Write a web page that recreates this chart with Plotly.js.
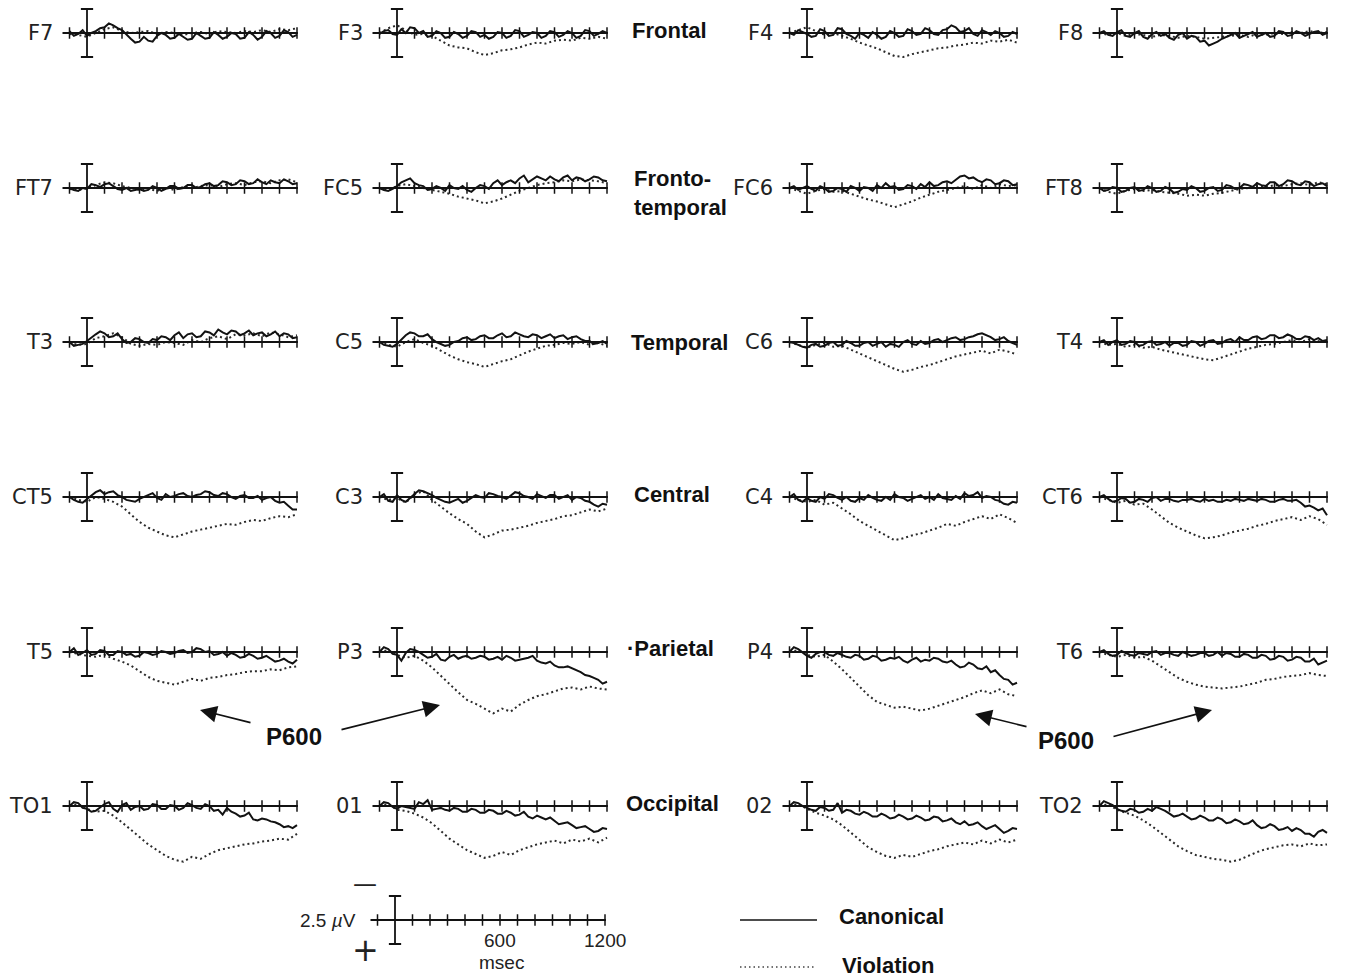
<!DOCTYPE html>
<html><head><meta charset="utf-8">
<script src="https://cdn.plot.ly/plotly-3.0.1.min.js"></script>
<style>html,body{margin:0;padding:0;background:#fff}#chart{width:1346px;height:978px}</style>
</head><body><div id="chart"></div>
<script>
// time points (ms): violation sampled every 50 ms, canonical every 25 ms
const times = [-100,-50,0,50,100,150,200,250,300,350,400,450,500,550,600,650,700,750,800,850,900,950,1000,1050,1100,1150,1200];
const timesFine = [-100,-75,-50,-25,0,25,50,75,100,125,150,175,200,225,250,275,300,325,350,375,400,425,450,475,500,525,550,575,600,625,650,675,700,725,750,775,800,825,850,875,900,925,950,975,1000,1025,1050,1075,1100,1125,1150,1175,1200];
const tickTimes = [-100,0,100,200,300,400,500,600,700,800,900,1000,1100,1200];
const channelGrid = [
  ["F7","F3","F4","F8"],
  ["FT7","FC5","FC6","FT8"],
  ["T3","C5","C6","T4"],
  ["CT5","C3","C4","CT6"],
  ["T5","P3","P4","T6"],
  ["TO1","01","02","TO2"]
];
const regionLabels = ["Frontal","Fronto-<br>temporal","Temporal","Central","·Parietal","Occipital"];
// amplitudes in µV (positive plotted downward)
const F7_can = [-0.2,0.3,0.1,-0.3,0.3,0.0,-0.2,-0.5,-0.6,-1.0,-0.8,-0.5,-0.3,0.2,0.6,1.0,0.9,0.4,0.8,0.9,0.3,0.0,0.2,0.6,0.5,0.1,0.4,0.7,0.6,0.0,0.3,0.6,0.5,-0.1,0.2,0.6,0.4,0.0,0.1,0.6,0.5,-0.1,0.2,0.7,0.4,-0.2,0.0,0.5,0.3,-0.3,-0.1,0.4,0.2];
const F7_vio = [0.1,0.2,0.4,0.0,-0.4,-0.6,-0.2,0.0,-0.1,-0.2,0.1,-0.1,0.0,0.2,0.0,-0.1,0.1,-0.2,-0.1,0.0,-0.2,-0.1,-0.3,-0.1,-0.4,-0.3,-0.5];
const F3_can = [0.1,-0.2,-0.3,0.1,0.2,-0.4,0.0,-0.6,-0.5,0.0,-0.2,0.4,0.3,-0.2,0.0,0.5,0.4,-0.1,0.1,0.5,0.3,-0.2,-0.1,0.4,0.2,0.6,0.4,-0.1,0.0,0.5,0.3,-0.3,-0.2,0.4,0.2,-0.1,0.0,0.5,0.3,-0.2,-0.1,0.4,0.2,-0.2,0.0,0.5,0.3,-0.3,-0.2,0.3,0.1,-0.2,0.0];
const F3_vio = [0.0,-0.5,-0.8,-0.3,0.2,0.1,0.3,0.8,1.3,1.5,1.6,2.0,2.3,2.1,1.8,1.7,1.5,1.2,1.0,1.1,0.8,0.7,0.8,0.5,0.6,0.4,0.6];
const F4_can = [0.0,0.2,-0.3,-0.1,0.1,0.4,0.3,-0.4,-0.2,0.3,0.2,-0.5,-0.4,0.1,0.3,0.6,0.0,0.2,0.5,-0.1,0.2,0.6,0.4,-0.2,0.0,0.4,0.3,-0.4,-0.2,0.2,0.1,-0.5,-0.3,0.1,0.2,-0.3,-0.4,-0.8,-0.6,-0.1,-0.2,-0.5,0.1,0.3,-0.3,-0.1,0.2,-0.2,0.0,0.4,0.3,-0.1,0.1];
const F4_vio = [0.0,-0.3,-0.6,-0.2,0.2,0.0,0.3,0.6,1.0,1.3,1.6,2.0,2.4,2.5,2.2,2.0,1.8,1.6,1.5,1.3,1.2,1.0,1.1,0.8,0.9,0.7,1.0];
const F8_can = [0.0,-0.2,0.2,0.3,-0.1,-0.3,0.3,0.4,0.0,-0.2,0.4,0.6,0.1,-0.1,0.3,0.1,0.5,0.7,0.2,0.0,0.6,0.3,0.4,0.9,0.8,1.3,1.1,0.9,0.6,0.4,0.2,0.0,0.5,0.3,0.1,-0.1,0.4,0.2,0.0,0.4,0.3,-0.2,-0.1,0.3,0.2,-0.2,0.0,0.3,0.1,-0.1,-0.2,0.2,0.0];
const F8_vio = [0.0,0.2,0.0,0.3,0.1,0.2,0.4,0.2,0.3,0.5,0.3,0.4,0.6,0.5,0.4,0.3,0.2,0.4,0.1,0.2,0.0,0.1,-0.1,0.0,-0.2,0.0,-0.1];
const FT7_can = [0.0,0.2,0.3,0.0,0.1,-0.4,-0.3,-0.1,-0.4,-0.5,-0.2,0.1,0.2,0.0,0.3,0.2,0.1,0.3,0.2,-0.2,0.0,0.3,0.1,-0.2,-0.2,0.1,0.0,-0.3,-0.3,0.0,-0.1,-0.4,-0.5,-0.2,-0.3,-0.7,-0.6,-0.3,-0.4,-0.8,-0.7,-0.4,-0.5,-0.9,-0.6,-0.4,-0.8,-0.6,-0.5,-0.9,-0.7,-0.4,-0.5];
const FT7_vio = [0.1,0.2,0.0,-0.3,-0.6,-0.5,-0.2,0.0,0.2,0.1,0.3,0.0,0.2,-0.1,0.0,-0.2,-0.3,-0.1,-0.4,-0.5,-0.3,-0.6,-0.7,-0.5,-0.8,-0.9,-0.6];
const FC5_can = [0.0,0.2,0.3,0.1,-0.2,-0.6,-0.8,-1.0,-0.5,-0.3,-0.2,0.2,0.1,-0.2,0.0,0.3,-0.3,0.0,0.1,-0.2,0.2,0.4,0.0,-0.3,-0.2,0.1,-0.5,-0.8,-0.3,-0.6,-0.8,-0.5,-1.0,-1.3,-0.6,-0.9,-1.2,-1.0,-0.8,-1.2,-0.9,-0.7,-1.1,-1.3,-0.8,-1.1,-1.0,-0.7,-0.9,-1.2,-1.1,-0.8,-0.7];
const FC5_vio = [0.0,0.2,-0.2,-0.4,-0.2,0.0,0.2,0.4,0.6,0.9,1.1,1.3,1.6,1.4,1.1,0.7,0.3,0.0,-0.3,-0.5,-0.6,-0.8,-0.7,-0.9,-0.8,-0.7,-0.5];
const FC6_can = [0.0,-0.2,0.2,0.0,-0.2,0.1,0.3,-0.2,0.0,0.4,0.3,0.0,0.1,0.4,-0.2,0.0,0.3,-0.1,0.0,0.3,-0.3,0.0,-0.5,-0.1,-0.2,0.2,0.1,-0.3,-0.2,0.1,-0.4,-0.1,-0.6,-0.2,-0.3,-0.6,-0.7,-0.5,-0.9,-1.2,-1.3,-1.0,-1.1,-0.8,-0.6,-0.9,-0.8,-0.4,-0.5,-0.8,-0.7,-0.3,-0.4];
const FC6_vio = [0.0,0.3,0.6,0.3,0.1,0.4,0.3,0.6,0.9,1.2,1.4,1.7,2.0,1.7,1.4,1.0,0.7,0.4,0.2,0.0,-0.2,0.1,-0.3,0.0,-0.4,-0.2,-0.3];
const FT8_can = [0.0,0.3,0.2,-0.1,0.0,0.4,0.3,0.0,-0.1,0.3,0.2,-0.2,0.0,0.4,0.3,-0.1,0.1,0.5,0.4,0.1,0.2,-0.2,0.0,0.4,0.3,0.0,-0.1,0.3,0.2,-0.3,-0.2,0.1,0.0,-0.4,-0.3,-0.1,-0.5,-0.3,-0.2,-0.6,-0.6,-0.2,-0.4,-0.8,-0.7,-0.4,-0.3,-0.7,-0.6,-0.2,-0.4,-0.5,-0.2];
const FT8_vio = [0.0,0.4,0.6,0.3,0.1,0.3,0.2,0.4,0.5,0.6,0.8,0.7,0.8,0.6,0.5,0.3,0.1,0.0,-0.2,-0.1,-0.3,-0.2,-0.4,-0.5,-0.3,-0.6,-0.4];
const T3_can = [0.0,0.4,0.3,0.2,-0.1,-0.5,-0.8,-1.1,-0.9,-0.5,-0.6,-0.9,-0.3,0.1,0.0,-0.4,-0.3,0.0,0.1,-0.3,-0.2,-0.6,-0.5,-0.2,-0.7,-1.0,-0.4,-0.8,-0.9,-0.5,-0.6,-1.1,-1.0,-0.7,-1.3,-1.0,-0.8,-1.2,-1.1,-0.7,-0.9,-1.2,-0.7,-0.9,-1.0,-0.6,-0.8,-1.1,-0.6,-0.9,-0.8,-0.4,-0.5];
const T3_vio = [0.1,0.3,0.2,-0.4,-0.6,-0.9,-0.5,0.2,0.4,0.2,0.3,0.0,0.1,0.3,-0.2,0.0,-0.4,-0.6,-0.3,-0.8,-0.7,-0.9,-0.6,-1.0,-0.8,-0.5,-0.7];
const C5_can = [0.0,0.3,0.4,0.5,0.2,-0.3,-0.7,-1.0,-0.9,-0.6,-0.6,-0.8,-0.3,0.0,0.2,0.4,0.3,0.0,-0.1,-0.4,-0.5,-0.2,-0.3,-0.6,-0.7,-0.4,-0.4,-0.7,-0.9,-0.5,-0.6,-1.0,-0.8,-0.6,-0.5,-0.8,-0.7,-0.4,-0.6,-0.8,-0.4,-0.6,-0.7,-0.3,-0.5,-0.6,-0.3,-0.1,-0.1,0.2,0.1,-0.1,0.2];
const C5_vio = [0.0,0.3,0.5,0.0,-0.3,0.1,0.4,0.9,1.4,1.8,2.1,2.3,2.6,2.3,2.0,1.8,1.4,1.0,0.7,0.4,0.3,0.1,0.2,0.0,0.3,0.1,0.4];
const C6_can = [0.0,0.1,0.3,0.5,0.6,0.3,0.2,0.5,0.4,0.1,0.0,0.4,0.3,-0.1,0.1,0.4,0.4,0.1,0.0,0.4,0.2,0.0,0.5,0.2,0.3,0.5,0.0,-0.2,0.2,0.3,-0.1,0.2,0.1,-0.2,-0.3,0.0,-0.2,-0.4,-0.5,-0.2,-0.3,-0.5,-0.6,-0.8,-0.9,-0.7,-0.5,-0.2,-0.3,-0.5,-0.1,0.1,0.3];
const C6_vio = [0.0,0.3,0.6,0.3,0.1,0.5,0.4,0.8,1.2,1.6,2.0,2.4,2.8,3.1,2.9,2.6,2.4,2.1,1.8,1.5,1.3,1.1,0.9,1.2,0.8,1.0,1.3];
const T4_can = [0.0,-0.2,0.3,0.0,-0.2,0.3,0.2,-0.1,0.0,0.4,0.3,0.0,-0.1,0.3,0.2,0.0,0.4,0.1,0.1,0.4,0.3,-0.1,0.0,0.4,0.2,-0.1,-0.2,0.2,0.1,-0.2,-0.3,0.0,-0.5,-0.2,-0.2,-0.5,-0.6,-0.3,-0.4,-0.7,-0.7,-0.4,-0.5,-0.8,-0.6,-0.3,-0.3,-0.6,-0.5,-0.2,-0.4,-0.1,-0.2];
const T4_vio = [0.0,0.3,0.2,0.5,0.3,0.6,0.5,0.8,1.0,1.2,1.4,1.6,1.8,1.9,1.6,1.3,1.0,0.7,0.5,0.3,0.2,0.0,-0.2,0.0,-0.3,-0.1,0.0];
const CT5_can = [0.0,0.3,0.5,0.6,0.2,-0.2,-0.5,-0.7,-0.3,-0.5,-0.6,-0.2,0.0,0.3,0.4,0.5,0.2,0.0,-0.2,-0.4,0.1,0.3,-0.3,0.0,-0.1,-0.3,-0.4,-0.1,0.0,-0.2,-0.3,-0.6,-0.5,-0.2,-0.1,-0.4,-0.3,0.0,0.2,-0.1,-0.2,0.1,0.1,-0.1,0.3,0.1,0.0,0.4,0.6,0.5,0.9,1.3,1.3];
const CT5_vio = [0.0,0.3,0.5,0.0,0.2,0.5,1.0,1.8,2.6,3.2,3.6,4.0,4.2,3.9,3.6,3.4,3.2,3.0,2.8,2.9,2.6,2.4,2.5,2.2,2.0,2.1,1.8];
const C3_can = [0.0,-0.3,0.4,0.5,-0.2,0.3,0.5,0.1,-0.3,-0.7,-0.6,-0.4,-0.2,0.1,0.3,0.5,0.6,0.4,0.2,0.6,0.4,0.1,-0.2,0.0,0.1,-0.4,-0.3,-0.1,0.0,0.2,-0.2,-0.5,-0.4,-0.1,0.0,0.2,-0.3,-0.1,0.1,-0.2,-0.2,0.2,0.0,-0.2,0.3,0.0,0.1,0.4,0.5,0.8,1.0,0.7,0.8];
const C3_vio = [0.0,0.3,0.1,0.6,-0.3,-0.6,0.3,1.0,1.7,2.3,2.8,3.6,4.2,3.9,3.5,3.4,3.2,3.0,2.7,2.5,2.3,2.0,1.9,1.6,1.3,1.5,1.2];
const C4_can = [0.0,-0.3,0.3,0.5,0.1,0.4,0.5,0.0,0.2,-0.3,-0.2,0.1,0.3,0.0,0.4,0.5,0.1,0.3,-0.2,0.1,0.3,0.4,0.0,0.3,-0.3,0.0,0.1,0.4,0.2,0.0,-0.2,0.2,0.0,0.3,-0.3,0.1,0.2,0.3,-0.1,0.2,-0.4,-0.1,-0.2,-0.5,0.1,-0.1,0.0,0.3,0.4,0.7,0.8,0.5,0.6];
const C4_vio = [0.0,0.3,0.5,0.3,0.8,0.6,1.2,1.8,2.5,3.0,3.5,4.0,4.5,4.3,4.0,3.8,3.5,3.2,2.8,3.0,2.6,2.3,2.0,2.3,1.8,2.2,2.7];
const CT6_can = [0.0,-0.2,0.2,0.5,0.4,0.1,0.2,0.6,0.5,0.2,0.3,0.5,0.1,0.0,0.4,0.2,0.2,0.4,0.5,0.3,0.3,0.2,0.4,0.5,0.2,0.4,0.3,0.5,0.5,0.3,0.4,0.2,0.3,0.4,0.2,0.3,0.4,0.2,0.3,0.5,0.5,0.3,0.2,0.4,0.4,0.3,0.6,1.0,0.9,1.1,1.4,1.2,1.9];
const CT6_vio = [0.0,0.3,0.6,0.4,0.8,0.7,1.3,2.0,2.7,3.2,3.6,4.0,4.3,4.2,4.0,3.7,3.5,3.3,3.0,2.8,2.5,2.3,2.1,2.4,2.0,2.3,2.9];
const T5_can = [0.0,-0.4,0.3,0.1,-0.2,0.3,0.2,-0.2,-0.1,0.3,0.3,-0.1,0.0,0.3,0.2,0.5,0.4,0.0,0.1,0.3,0.2,-0.1,0.0,0.2,0.1,-0.1,-0.2,0.1,0.0,-0.4,-0.3,0.0,-0.1,0.3,0.2,0.0,0.4,0.1,0.3,0.6,0.5,0.2,0.4,0.7,0.6,0.4,0.7,1.0,0.9,0.7,1.0,1.2,0.8];
const T5_vio = [0.0,0.2,0.4,0.5,0.3,0.7,1.0,1.4,2.0,2.6,3.0,3.2,3.4,3.1,2.8,3.0,2.7,2.6,2.4,2.3,2.1,2.0,2.0,1.8,1.9,1.6,1.5];
const P3_can = [0.0,-0.5,-0.3,0.2,0.3,0.9,0.1,-0.3,-0.2,0.0,0.3,0.6,0.5,0.2,0.8,0.9,0.5,0.3,0.7,0.5,0.4,0.7,0.6,0.4,0.5,0.8,0.7,0.5,0.8,0.4,0.6,0.9,0.8,0.7,0.6,0.4,0.9,1.1,1.2,1.0,1.4,1.6,1.6,1.5,1.7,1.9,2.1,2.4,2.5,2.7,2.9,3.3,3.1];
const P3_vio = [0.0,-0.2,0.3,0.6,0.4,0.9,1.6,2.5,3.4,4.2,5.0,5.4,5.9,6.4,5.9,6.2,5.5,5.0,4.6,4.4,4.1,3.8,3.7,3.9,3.6,3.8,3.9];
const P4_can = [0.0,-0.5,-0.3,0.1,0.4,0.6,0.2,0.0,0.0,0.3,0.4,0.1,0.3,0.5,0.6,0.3,0.4,0.8,0.7,0.4,0.5,0.9,0.8,0.6,0.7,0.5,0.9,1.1,0.8,0.6,1.0,0.8,0.9,0.6,0.7,1.0,1.1,0.9,1.3,1.6,1.5,1.1,1.3,1.7,1.8,1.5,2.1,1.9,2.4,2.8,2.9,3.4,3.2];
const P4_vio = [0.0,-0.2,0.3,0.5,0.3,1.0,1.8,2.7,3.7,4.5,5.2,5.5,5.8,5.7,5.9,6.1,5.9,5.6,5.3,5.0,4.7,4.3,4.0,4.3,3.9,4.4,4.6];
const T6_can = [0.0,-0.2,0.2,0.4,0.3,-0.1,0.1,0.3,0.4,0.1,0.2,0.3,0.0,-0.1,0.3,0.1,0.1,0.3,0.4,0.0,0.2,0.4,0.3,0.1,0.1,0.4,0.3,0.0,0.4,0.1,0.2,0.5,0.5,0.2,0.3,0.6,0.6,0.3,0.4,0.8,0.7,0.4,0.5,0.9,0.8,0.5,0.6,1.0,1.0,0.7,1.3,1.1,0.9];
const T6_vio = [0.0,0.3,0.5,0.3,0.6,0.5,0.9,1.5,2.1,2.7,3.1,3.4,3.6,3.7,3.8,3.7,3.6,3.4,3.2,2.9,2.8,2.6,2.5,2.4,2.2,2.4,2.5];
const TO1_can = [0.0,-0.4,-0.3,0.2,0.3,0.6,0.5,0.1,-0.2,-0.4,0.3,0.6,-0.1,-0.3,0.4,0.1,0.0,0.4,0.3,-0.2,-0.1,0.3,0.3,-0.1,0.0,0.4,0.2,-0.3,-0.1,0.2,0.3,-0.2,0.0,0.5,0.4,0.9,0.2,0.6,0.8,1.1,1.0,0.7,1.4,1.5,1.3,1.4,1.6,1.7,1.9,2.2,2.1,2.3,2.0];
const TO1_vio = [0.0,-0.2,0.3,0.6,0.5,1.0,1.7,2.5,3.3,4.0,4.6,5.2,5.6,5.8,5.3,5.5,5.0,4.6,4.4,4.2,4.0,3.9,3.7,3.6,3.4,3.5,2.9];
const O1_can = [0.0,-0.4,-0.3,0.1,0.3,0.0,0.1,0.2,0.3,-0.4,-0.2,-0.6,0.4,0.3,0.2,0.4,0.5,0.2,0.3,0.6,0.6,0.3,0.4,0.7,0.7,0.4,0.5,0.8,0.8,0.5,0.7,1.0,0.9,0.6,1.1,1.3,1.0,1.2,1.4,1.2,1.6,1.9,1.8,1.7,2.0,2.3,2.2,2.1,2.4,2.7,2.6,2.3,2.4];
const O1_vio = [0.0,-0.2,0.4,0.5,0.8,1.2,1.8,2.6,3.4,4.0,4.6,5.0,5.4,5.2,4.8,5.1,4.6,4.3,4.0,3.8,3.6,3.9,3.5,3.7,3.4,3.8,3.3];
const O2_can = [0.0,-0.4,-0.3,0.0,0.2,0.4,0.5,0.1,0.2,0.5,0.4,-0.3,0.7,0.4,0.5,0.8,0.9,0.6,0.8,1.1,1.1,0.8,1.0,1.3,1.2,0.9,1.1,1.4,1.3,1.0,1.2,1.5,1.4,1.1,1.2,1.6,1.5,1.3,1.7,1.9,1.6,2.0,1.9,1.7,2.1,2.4,2.2,2.0,2.4,2.8,2.6,2.3,2.4];
const O2_vio = [0.0,-0.2,0.3,0.7,1.0,1.4,2.0,2.8,3.6,4.3,4.8,5.2,5.4,5.1,5.3,5.0,4.7,4.5,4.2,4.0,3.8,4.0,3.6,3.9,3.5,3.8,3.5];
const TO2_can = [0.0,-0.5,-0.3,-0.1,0.3,0.5,0.6,0.3,0.4,0.7,0.6,0.3,0.5,0.1,0.3,0.5,0.8,1.1,1.0,0.8,1.1,1.4,1.3,1.0,1.2,1.5,1.5,1.2,1.4,1.8,1.7,1.4,1.6,1.9,1.8,1.5,2.0,2.3,2.2,1.9,2.1,2.5,2.4,2.2,2.6,2.3,2.5,2.9,2.9,3.2,2.7,2.5,2.8];
const TO2_vio = [0.0,-0.2,0.4,0.7,1.0,1.5,2.1,2.8,3.5,4.2,4.7,5.1,5.3,5.5,5.6,5.8,5.6,5.2,4.8,4.5,4.3,4.1,4.0,4.2,3.9,4.1,4.0];

const canonical = {F7:F7_can,F3:F3_can,F4:F4_can,F8:F8_can,FT7:FT7_can,FC5:FC5_can,FC6:FC6_can,FT8:FT8_can,
  T3:T3_can,C5:C5_can,C6:C6_can,T4:T4_can,CT5:CT5_can,C3:C3_can,C4:C4_can,CT6:CT6_can,
  T5:T5_can,P3:P3_can,P4:P4_can,T6:T6_can,TO1:TO1_can,"01":O1_can,"02":O2_can,TO2:TO2_can};
const violation = {F7:F7_vio,F3:F3_vio,F4:F4_vio,F8:F8_vio,FT7:FT7_vio,FC5:FC5_vio,FC6:FC6_vio,FT8:FT8_vio,
  T3:T3_vio,C5:C5_vio,C6:C6_vio,T4:T4_vio,CT5:CT5_vio,C3:C3_vio,C4:C4_vio,CT6:CT6_vio,
  T5:T5_vio,P3:P3_vio,P4:P4_vio,T6:T6_vio,TO1:TO1_vio,"01":O1_vio,"02":O2_vio,TO2:TO2_vio};

// ---------- layout geometry ----------
const W = 1346, H = 978;
const colX = [87, 397, 807, 1117];   // pixel x of 0 ms
const rowY = [33, 188, 342, 497, 652, 806]; // pixel y of baseline
const PX_MS = 0.175, PX_UV = 9.6;
const XR = [-300, 1300], YR = [8, -3.3];
const INK = '#121212';
const px = v => v / W, py = v => 1 - v / H;

const data = [], shapes = [], annotations = [];
const layout = {width: W, height: H, margin: {l:0,r:0,t:0,b:0}, showlegend: false,
  paper_bgcolor: '#fff', plot_bgcolor: 'rgba(0,0,0,0)'};

function addAxes(n, x0, yb, yr) {
  const xd = [px(x0 + XR[0]*PX_MS), px(x0 + XR[1]*PX_MS)];
  const yd = [py(yb + yr[0]*PX_UV), py(yb + yr[1]*PX_UV)];
  const common = {visible: false, fixedrange: true, showgrid: false, zeroline: false};
  layout['xaxis' + n] = Object.assign({domain: xd, range: XR, anchor: 'y' + n}, common);
  layout['yaxis' + n] = Object.assign({domain: yd, range: yr, anchor: 'x' + n}, common);
}
function addFrame(n) {
  const xr = 'x' + n, yr = 'y' + n;
  const ln = w => ({color: INK, width: w});
  shapes.push({type:'line', xref:xr, yref:yr, x0:-140, x1:1205, y0:0, y1:0, line: ln(1.9)});
  tickTimes.forEach(t => { if (t !== 0) shapes.push({type:'line', xref:xr, yref:yr, x0:t, x1:t, y0:-0.6, y1:0.6, line: ln(1.5)}); });
  shapes.push({type:'line', xref:xr, yref:yr, x0:0, x1:0, y0:-2.5, y1:2.5, line: ln(1.8)});
  shapes.push({type:'line', xref:xr, yref:yr, x0:-35, x1:35, y0:-2.5, y1:-2.5, line: ln(1.8)});
  shapes.push({type:'line', xref:xr, yref:yr, x0:-35, x1:35, y0:2.5, y1:2.5, line: ln(1.8)});
}
function txt(x, y, text, font, xa, ya, extra) {
  annotations.push(Object.assign({xref:'paper', yref:'paper', x:px(x), y:py(y), text:text, showarrow:false,
    xanchor: xa || 'center', yanchor: ya || 'middle', font: font}, extra || {}));
}

let n = 1;
channelGrid.forEach((row, r) => {
  row.forEach((ch, c) => {
    addAxes(n, colX[c], rowY[r], YR);
    addFrame(n);
    data.push({type:'scatter', mode:'lines', x: times, y: violation[ch], xaxis:'x'+n, yaxis:'y'+n,
      line:{color:'#2a2a2a', width:2, dash:'2px,3px'}, hoverinfo:'skip'});
    data.push({type:'scatter', mode:'lines', x: timesFine, y: canonical[ch], xaxis:'x'+n, yaxis:'y'+n,
      line:{color:INK, width:2}, hoverinfo:'skip'});
    annotations.push({xref:'x'+n, yref:'y'+n, x:-185, y:0, text: ch, showarrow:false,
      xanchor:'right', yanchor:'middle', font:{family:'DejaVu Sans', size:21, color:'#222'}});
    n++;
  });
});

// region labels
const boldFont = {family:'Liberation Sans', size:22, color:'#111', weight:'bold'};
const regionPos = [[669,30],[632,193],[679,342],[672,494],[670,648],[672,803]];
regionLabels.forEach((t, i) => {
  if (i === 1) txt(regionPos[i][0], regionPos[i][1], t, boldFont, 'left', 'middle', {align:'left'});
  else txt(regionPos[i][0], regionPos[i][1], t, boldFont, 'center', 'middle');
});

// P600 labels and arrows
const p600 = [[294,736],[1066,740]];
p600.forEach(p => txt(p[0], p[1], 'P600', {family:'Liberation Sans', size:24, color:'#111', weight:'bold'}));
const arrows = [[[252,723],[200,710]],[[340,730],[440,705]],[[1028,727],[975,714]],[[1112,737],[1212,710]]];
arrows.forEach(a => annotations.push({xref:'paper', yref:'paper', x:px(a[1][0]), y:py(a[1][1]),
  ax: a[0][0]-a[1][0], ay: a[0][1]-a[1][1], text:'', showarrow:true, arrowhead:2, arrowsize:2.1,
  arrowwidth:1.6, arrowcolor:'#111', standoff:0}));

// calibration scale
addAxes(n, 395, 920, [3.5, -3.3]);
addFrame(n);
const regFont = {family:'Liberation Sans', size:19, color:'#222'};
txt(358, 920, '2.5 <i>µ</i>V', regFont, 'right', 'middle');
txt(365, 884, '—', {family:'DejaVu Sans', size:24, color:'#222'});
txt(365, 950, '+', {family:'DejaVu Sans', size:32, color:'#222'});
[600, 1200].forEach(t => annotations.push({xref:'x'+n, yref:'paper', x:t, y:py(940), text:String(t),
  showarrow:false, xanchor:'center', yanchor:'middle', font: regFont}));
annotations.push({xref:'x'+n, yref:'paper', x:610, y:py(962), text:'msec', showarrow:false,
  xanchor:'center', yanchor:'middle', font: regFont});

// legend
shapes.push({type:'line', xref:'paper', yref:'paper', x0:px(740), x1:px(817), y0:py(920), y1:py(920), line:{color:INK, width:1.7}});
shapes.push({type:'line', xref:'paper', yref:'paper', x0:px(740), x1:px(815), y0:py(967), y1:py(967), line:{color:'#444', width:1.5, dash:'1.5px,3px'}});
txt(837, 916, 'Canonical', boldFont, 'left', 'middle');
txt(840, 965, 'Violation', boldFont, 'left', 'middle');

layout.shapes = shapes;
layout.annotations = annotations;
Plotly.newPlot('chart', data, layout, {staticPlot: true, displayModeBar: false});
</script></body></html>
